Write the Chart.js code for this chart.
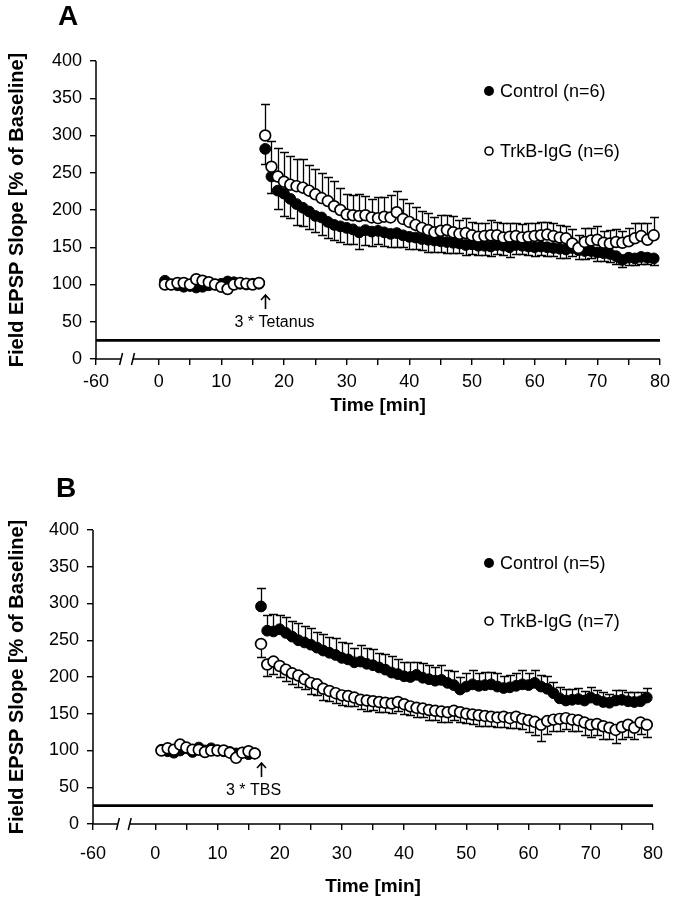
<!DOCTYPE html>
<html>
<head>
<meta charset="utf-8">
<script src="https://cdn.jsdelivr.net/npm/chart.js@4.4.1/dist/chart.umd.min.js"></script>
<style>
  html, body { margin: 0; padding: 0; background: #fff; }
  #wrap { position: relative; width: 676px; height: 899px; }
  canvas { position: absolute; left: 0; }
</style>
</head>
<body>
<div id="wrap">
  <canvas id="chartA" width="676" height="430" style="top:0"></canvas>
  <canvas id="chartB" width="676" height="429" style="top:470px"></canvas>
</div>
<script>
// time in minutes, baseline 1-16 then post-induction 17-79
const times = [1,2,3,4,5,6,7,8,9,10,11,12,13,14,15,16,
  17,18,19,20,21,22,23,24,25,26,27,28,29,30,31,32,33,34,35,36,37,38,39,40,
  41,42,43,44,45,46,47,48,49,50,51,52,53,54,55,56,57,58,59,60,
  61,62,63,64,65,66,67,68,69,70,71,72,73,74,75,76,77,78,79];
const postStart = 16; // error bars only after the induction

// panel A (tetanus)
const ctrlA = [105,100,99,97,98,96,97,99,100,101,104,103,101,100,101,101,
  282,245,226,222,215,208,203,198,192,190,
  184,180,178,176,174,170,173,171,172,170,
  168,169,166,164,163,161,160,159,158,157,
  156,155,153,154,152,152,151,153,152,150,
  153,152,151,150,151,150,149,148,147,149,
  146,145,145,143,142,141,138,133,136,135,
  137,136,135];
const ctrlAErr = [20,22,25,30,26,28,25,24,22,24,
  22,20,21,22,20,22,20,19,18,18,
  17,18,16,17,16,15,16,15,14,15,
  14,13,14,13,13,12,13,12,12,13,
  12,11,12,12,11,12,11,12,11,11,
  12,11,10,11,10,11,10,9,10,9,
  10,9,9];
const trkA = [100,100,102,102,100,107,105,103,100,97,94,100,102,101,100,102,
  300,258,245,238,234,232,230,226,221,216,
  212,205,200,194,193,192,193,190,189,191,
  190,197,188,184,180,176,173,170,172,173,
  170,168,169,166,164,165,166,166,163,164,
  165,163,164,165,166,167,165,163,162,155,
  149,157,159,160,156,155,157,156,158,162,
  165,160,166];
const trkAErr = [42,35,38,40,38,36,38,35,34,33,
  32,34,30,28,27,30,26,25,28,26,
  30,28,27,25,24,22,23,20,21,20,
  22,19,20,18,19,18,20,18,19,18,
  17,18,19,17,18,17,18,17,16,20,
  18,19,17,18,16,18,17,16,18,20,
  18,22,24];

// panel B (TBS)
const ctrlB = [101,99,97,100,103,98,104,100,103,100,99,98,96,97,95,96,
  296,263,262,265,260,255,250,247,244,240,
  236,233,230,226,224,220,221,218,216,213,
  210,206,204,201,200,203,199,197,195,196,
  192,189,183,187,190,188,189,190,187,185,
  186,188,190,189,192,187,184,178,171,168,
  169,170,168,172,169,166,165,168,169,167,
  166,167,172];
const ctrlBErr = [25,22,24,20,22,21,23,22,22,21,
  22,21,23,21,22,20,22,21,22,20,
  21,22,20,19,21,18,20,19,18,20,
  18,19,17,18,19,17,18,17,18,16,
  17,18,19,17,18,16,17,15,16,15,
  14,15,13,14,13,14,12,14,13,12,
  13,12,13];
const trkB = [100,103,101,108,104,101,101,98,100,100,100,97,90,97,99,96,
  245,217,221,215,210,205,202,197,192,190,
  184,181,178,175,174,172,169,168,167,166,
  165,164,166,163,160,158,157,155,154,153,
  152,154,152,150,149,148,147,146,145,146,
  144,146,143,141,139,135,140,142,143,144,
  142,141,138,135,136,133,131,128,132,135,
  131,138,135];
const trkBErr = [18,16,17,15,16,15,16,14,15,14,
  15,13,14,13,14,12,13,14,12,13,
  12,13,12,14,12,13,12,13,12,14,
  13,12,13,12,13,14,13,12,13,14,
  13,15,14,16,18,22,17,15,16,15,
  16,15,17,16,15,17,16,18,17,16,
  15,16,17];

// x axis: -60 is drawn one step left of 0, with a break
const xTickValues = [-10,0,10,20,30,40,50,60,70,80];
const xTickText = ['-60','0','10','20','30','40','50','60','70','80'];
const refLevel = 25;
const inductionTime = 17;

const FONT = "'Liberation Sans', Arial, sans-serif";

function points(vals, errs) {
  return times.map((t, i) => ({ x: t, y: vals[i], err: i >= postStart ? errs[i - postStart] : null }));
}

const errorBars = {
  id: 'errorBars',
  beforeDatasetsDraw(chart) {
    const { ctx } = chart;
    const ys = chart.scales.y;
    ctx.save();
    ctx.strokeStyle = '#000';
    ctx.lineWidth = 1.3;
    chart.data.datasets.forEach((ds, i) => {
      const meta = chart.getDatasetMeta(i);
      meta.data.forEach((el, j) => {
        const p = ds.data[j];
        if (!p.err) return;
        const py = Math.round(ys.getPixelForValue(p.y + ds.errDir * p.err)) + 0.5;
        const px = Math.round(el.x) + 0.5;
        ctx.beginPath();
        ctx.moveTo(px, el.y);
        ctx.lineTo(px, py);
        ctx.moveTo(px - 4.5, py);
        ctx.lineTo(px + 4.5, py);
        ctx.stroke();
      });
    });
    ctx.restore();
  }
};

const panelDeco = {
  id: 'panelDeco',
  beforeDatasetsDraw(chart, args, o) {
    const { ctx, chartArea: a } = chart;
    const xs = chart.scales.x, ys = chart.scales.y;
    ctx.save();
    ctx.strokeStyle = '#000';
    // axes
    ctx.lineWidth = 1.5;
    ctx.beginPath();
    ctx.moveTo(a.left, a.top);
    ctx.lineTo(a.left, a.bottom);
    const b1 = xs.getPixelForValue(-6), b2 = xs.getPixelForValue(-4.1);
    ctx.moveTo(a.left, a.bottom);
    ctx.lineTo(b1, a.bottom);
    ctx.moveTo(b2, a.bottom);
    ctx.lineTo(a.right, a.bottom);
    ctx.moveTo(b1 - 1.5, a.bottom + 6);
    ctx.lineTo(b1 + 1.5, a.bottom - 6);
    ctx.moveTo(b2 - 1.5, a.bottom + 6);
    ctx.lineTo(b2 + 1.5, a.bottom - 6);
    ctx.stroke();
    // reference line
    const ry = ys.getPixelForValue(refLevel);
    ctx.lineWidth = 2.8;
    ctx.beginPath();
    ctx.moveTo(a.left, ry);
    ctx.lineTo(a.right, ry);
    ctx.stroke();
    ctx.restore();
  },
  afterDraw(chart, args, o) {
    const { ctx } = chart;
    const xs = chart.scales.x, ys = chart.scales.y;
    ctx.save();
    ctx.fillStyle = '#000';
    ctx.strokeStyle = '#000';
    // panel letter
    ctx.font = 'bold 28px ' + FONT;
    ctx.textAlign = 'center';
    ctx.textBaseline = 'middle';
    ctx.fillText(o.letter, o.letterX, o.letterY);
    // legend
    ctx.font = '18px ' + FONT;
    ctx.textAlign = 'left';
    o.legend.forEach(it => {
      ctx.beginPath();
      ctx.arc(489, it.y, it.filled ? 5 : 4, 0, Math.PI * 2);
      if (it.filled) ctx.fill();
      else { ctx.lineWidth = 1.6; ctx.stroke(); }
      ctx.fillText(it.text, 500, it.y + 1);
    });
    // induction arrow
    const ax = Math.round(xs.getPixelForValue(inductionTime)) + 0.5;
    const ay = ys.getPixelForValue(o.arrowTip);
    ctx.lineWidth = 1.6;
    ctx.beginPath();
    ctx.moveTo(ax, ay);
    ctx.lineTo(ax, ay + 14);
    ctx.moveTo(ax - 4.5, ay + 5);
    ctx.lineTo(ax, ay);
    ctx.lineTo(ax + 4.5, ay + 5);
    ctx.stroke();
    ctx.font = '16px ' + FONT;
    ctx.textAlign = 'center';
    ctx.fillText(o.arrowText, ax + o.textDx, ay + 28);
    ctx.restore();
  }
};

function makePanel(id, cfg) {
  new Chart(document.getElementById(id), {
    type: 'scatter',
    data: {
      datasets: [
        { label: cfg.labels[1], data: points(cfg.trk, cfg.trkErr), errDir: cfg.trkDir, order: 1,
          pointRadius: 5.4, pointBackgroundColor: '#fff', pointBorderColor: '#000', pointBorderWidth: 1.7 },
        { label: cfg.labels[0], data: points(cfg.ctrl, cfg.ctrlErr), errDir: cfg.ctrlDir, order: 2,
          pointRadius: 5.4, pointBackgroundColor: '#000', pointBorderColor: '#000', pointBorderWidth: 1 }
      ]
    },
    options: {
      responsive: false,
      animation: false,
      layout: { padding: { top: cfg.top, right: 13, left: 0, bottom: 0 } },
      scales: {
        x: {
          type: 'linear', min: -10, max: 80,
          afterFit: s => { s.height = cfg.xHeight; },
          afterBuildTicks: s => {
            const t = [];
            for (let v = -10; v <= 80; v += 5) t.push({ value: v });
            s.ticks = t;
          },
          border: { display: false },
          grid: { drawOnChartArea: false, drawTicks: true, tickLength: 6, lineWidth: 1.4,
                  color: c => (c.tick && c.tick.value === -5) ? 'rgba(0,0,0,0)' : '#000' },
          ticks: {
            autoSkip: false, maxRotation: 0, padding: cfg.xPad, color: '#000',
            font: { family: FONT, size: 18 },
            callback: v => { const k = xTickValues.indexOf(v); return k >= 0 ? xTickText[k] : ''; }
          },
          title: { display: true, text: 'Time [min]', color: '#000',
                   font: { family: FONT, size: 19, weight: 'bold' }, padding: { top: 0, bottom: cfg.titlePad } }
        },
        y: {
          min: 0, max: 400,
          afterFit: s => { s.width = cfg.left; },
          border: { display: false },
          grid: { drawOnChartArea: false, drawTicks: true, tickLength: 6, lineWidth: 1.4, color: '#000' },
          ticks: {
            stepSize: 25, padding: 8, color: '#000',
            font: { family: FONT, size: 18 },
            callback: v => (v % 50 === 0 ? String(v) : '')
          },
          title: { display: true, text: 'Field EPSP Slope [% of Baseline]', color: '#000',
                   font: { family: FONT, size: 20, weight: 'bold' }, padding: { top: 5, bottom: 0 } }
        }
      },
      plugins: {
        legend: { display: false },
        tooltip: { enabled: false },
        panelDeco: cfg.deco
      }
    },
    plugins: [errorBars, panelDeco]
  });
}

makePanel('chartA', {
  ctrl: ctrlA, ctrlErr: ctrlAErr, trk: trkA, trkErr: trkAErr,
  ctrlDir: -1, trkDir: 1,
  labels: ['Control (n=6)', 'TrkB-IgG (n=6)'],
  top: 61, left: 96, xHeight: 71, xPad: 6, titlePad: 13,
  deco: {
    letter: 'A', letterX: 68, letterY: 17,
    legend: [{ text: 'Control (n=6)', y: 91, filled: true }, { text: 'TrkB-IgG (n=6)', y: 151, filled: false }],
    arrowTip: 86, arrowText: '3 * Tetanus', textDx: 9
  }
});

makePanel('chartB', {
  ctrl: ctrlB, ctrlErr: ctrlBErr, trk: trkB, trkErr: trkBErr,
  ctrlDir: 1, trkDir: -1,
  labels: ['Control (n=5)', 'TrkB-IgG (n=7)'],
  top: 60, left: 93, xHeight: 75, xPad: 13, titlePad: 1,
  deco: {
    letter: 'B', letterX: 66, letterY: 19,
    legend: [{ text: 'Control (n=5)', y: 93, filled: true }, { text: 'TrkB-IgG (n=7)', y: 151, filled: false }],
    arrowTip: 83, arrowText: '3 * TBS', textDx: -8
  }
});
</script>
</body>
</html>
